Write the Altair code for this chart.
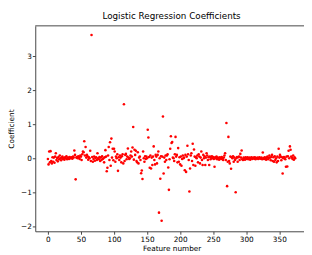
import altair as alt
import pandas as pd

chart_title = "Logistic Regression Coefficients"
x_label = "Feature number"
y_label = "Coefficient"
x_ticks = [0, 50, 100, 150, 200, 250, 300, 350]
y_ticks = [-2, -1, 0, 1, 2, 3]

coef = [
    -0.02, -0.18, 0.20, -0.12, 0.21, -0.08, -0.15, 0.03, -0.10, 0.02, -0.13, 0.05, 0.15, -0.05, 0.01, -0.09, 0.04, -0.03, 0.08, 0.00, -0.06, 0.02, 0.05, -0.02, 0.01,
    -0.04, 0.03, 0.00, 0.06, -0.03, 0.01, 0.02, -0.02, 0.04, 0.00, 0.01, 0.03, -0.01, 0.05, 0.02, 0.23, 0.10, -0.62, 0.02, 0.04, 0.00, 0.06, 0.03, -0.02, 0.08,
    0.05, -0.05, 0.12, 0.20, 0.18, 0.50, 0.08, 0.33, 0.02, 0.10, 0.06, -0.04, 0.03, 0.00, 0.22, -0.08, 3.63, 0.04, -0.10, -0.02, 0.05, -0.07, 0.01, 0.03, -0.05,
    0.15, 0.00, -0.03, 0.04, -0.08, 0.02, -0.05, 0.06, -0.02, 0.00, -0.12, 0.03, 0.24, 0.05, -0.38, -0.28, 0.08, 0.33, -0.05, 0.47, -0.22, 0.58, 0.02, 0.28, -0.06,
    0.28, 0.20, -0.10, 0.05, 0.00, 0.12, -0.37, 0.03, -0.05, 0.08, 0.02, -0.12, 0.06, 0.12, -0.15, 1.59, -0.08, 0.10, 0.13, -0.03, 0.05, 0.29, 0.02, -0.02, 0.00,
    0.08, 0.20, 0.05, 0.32, 0.92, -0.04, 0.25, 0.10, 0.22, -0.08, -0.12, 0.18, -0.15, 0.02, 0.05, -0.05, -0.44, -0.36, -0.61, 0.20, 0.00, -0.10, 0.06, -0.02, 0.05,
    0.00, 0.84, 0.61, 0.04, -0.28, 0.08, -0.30, 0.02, -0.20, 0.05, 0.35, -0.05, -0.18, 0.10, 0.05, -0.15, 0.10, 0.20, -1.60, 0.00, -0.60, 0.06, -1.84, 0.05, 1.23,
    -0.45, 0.02, -0.10, 0.08, -0.05, 0.08, 0.12, -0.27, -0.93, -0.03, 0.28, 0.65, 0.45, 0.48, 0.02, 0.00, -0.08, 0.12, 0.63, 0.05, 0.10, -0.12, 0.30, -0.10, 0.03,
    -0.18, 0.05, -0.22, -0.02, 0.08, 0.00, 0.02, -0.35, 0.10, -0.40, 0.05, 0.37, 0.12, -0.05, -0.98, -0.30, 0.08, 0.15, -0.08, 0.43, -0.20, 0.26, 0.05, -0.22, 0.03,
    0.00, 0.08, -0.12, 0.12, 0.05, -0.15, 0.02, 0.20, -0.05, -0.20, 0.10, 0.00, 0.06, -0.20, 0.02, 0.15, 0.08, -0.05, 0.03, -0.20, 0.05, -0.03, 0.02, 0.06, 0.00,
    0.04, -0.02, -0.25, 0.03, 0.00, 0.05, -0.03, 0.02, 0.00, -0.04, 0.03, 0.01, -0.02, 0.04, 0.00, -0.05, 0.02, 0.08, 0.15, -0.05, 1.04, -0.82, -0.10, 0.63, -0.08,
    -0.15, 0.05, -0.31, 0.03, 0.00, 0.06, -0.10, 0.02, -0.05, -1.00, 0.00, 0.04, -0.10, 0.03, 0.05, -0.05, 0.13, 0.02, 0.23, -0.03, -0.05, 0.02, 0.00, -0.04, 0.03,
    -0.02, 0.01, 0.03, -0.03, 0.00, 0.02, -0.04, 0.01, 0.03, -0.02, 0.00, 0.02, -0.01, 0.03, -0.03, 0.01, 0.00, 0.02, -0.02, 0.01, 0.03, -0.01, 0.00, 0.02, -0.03,
    0.17, 0.01, -0.02, 0.03, 0.00, -0.04, 0.02, 0.05, -0.03, 0.01, 0.08, 0.02, -0.06, 0.04, 0.10, -0.08, 0.03, -0.10, 0.06, -0.05, 0.00, -0.12, 0.05, -0.08, 0.28,
    0.02, 0.10, 0.05, -0.06, 0.03, -0.45, 0.00, 0.04, 0.02, -0.03, -0.25, 0.05, -0.24, 0.06, 0.22, 0.00, 0.35, 0.25, 0.05, 0.02, -0.02, 0.08, -0.04, 0.03, 0.00,
]

df = pd.DataFrame({"feature": list(range(len(coef))), "coef": coef})

FONT = "DejaVu Sans"
SPINE = "#444444"

points = alt.Chart(df).mark_circle(size=7, color="#ff0000", opacity=1).encode(
    x=alt.X(
        "feature:Q",
        scale=alt.Scale(domain=[-19.1, 387.3], nice=False, zero=False),
        axis=alt.Axis(values=x_ticks, title=x_label, titleX=140, titlePadding=2),
    ),
    y=alt.Y(
        "coef:Q",
        scale=alt.Scale(domain=[-2.15, 3.9], nice=False, zero=False),
        axis=alt.Axis(values=y_ticks, title=y_label, titleX=-22,
                      titleBaseline="alphabetic"),
    ),
)

top_spine = alt.Chart(pd.DataFrame({"s": [0]})).mark_rule(
    color=SPINE, strokeWidth=1
).encode(y=alt.value(0))

chart = (
    alt.layer(points, top_spine)
    .properties(
        width=276,
        height=211,
        autosize=alt.AutoSizeParams(type="none"),
        padding={"left": 28, "top": 15, "right": 0, "bottom": 21},
        title=alt.TitleParams(
            chart_title, fontSize=9, font=FONT, fontWeight="normal",
            color="#000000", offset=5, frame="group", dx=2,
        ),
    )
    .configure_view(stroke=None)
    .configure_axis(
        grid=False,
        domainColor=SPINE,
        domainWidth=1,
        tickColor=SPINE,
        tickWidth=1,
        tickSize=3,
        labelFont=FONT,
        labelFontSize=7.5,
        labelColor="#000000",
        labelPadding=1,
        titleFont=FONT,
        titleFontSize=7.5,
        titleFontWeight="normal",
        titleColor="#000000",
    )
)

chart.save("out.html", embed_options={"renderer": "svg", "actions": False})
